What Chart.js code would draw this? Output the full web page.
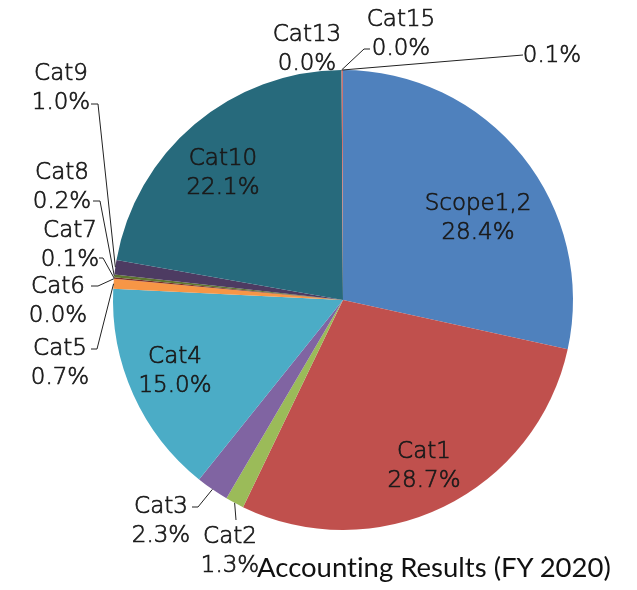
<!DOCTYPE html>
<html>
<head>
<meta charset="utf-8">
<script src="https://cdn.jsdelivr.net/npm/chart.js@4.4.1/dist/chart.umd.min.js"></script>
<style>
    html, body { margin: 0; padding: 0; background: #fff; }
    #wrap { position: relative; width: 637px; height: 590px; overflow: hidden; }
    #title {
        position: absolute; left: 257px; top: 550px;
        font: 27.5px Lato, sans-serif; color: #111; white-space: nowrap;
        font-variant-ligatures: none;
    }
</style>
</head>
<body>
<div id="wrap">
    <canvas id="chart" width="637" height="590"></canvas>
    <div id="title">Accounting Results (FY 2020)</div>
</div>
<script>
const categories = ["Scope1,2", "Cat1", "Cat2", "Cat3", "Cat4", "Cat5", "Cat6", "Cat7",
    "Cat8", "Cat9", "Cat10", "Cat13", "Cat15", ""];
const shares = [28.4, 28.7, 1.3, 2.3, 15.0, 0.7, 0.0, 0.1, 0.2, 1.0, 22.1, 0.0, 0.0, 0.1];

// Office 2007 palette, accents then their darker and lighter shades
const sliceColors = ["#4F81BD", "#C0504D", "#9BBB59", "#8064A2", "#4BACC6", "#F79646",
    "#2C4D75", "#772C2A", "#5F7530", "#4D3B62", "#276A7C", "#B65708", "#729ACA", "#CD7371"];

// label text centre x / first baseline y, plus the leader bend points (label side first)
const labelPlacement = [
    { x: 478, y: 210 },
    { x: 424, y: 458 },
    { x: 230, y: 543, leader: [[236, 520]] },
    { x: 161, y: 513, leader: [[192, 507], [198, 507]] },
    { x: 175, y: 363 },
    { x: 60, y: 355, leader: [[91, 349], [97, 349]] },
    { x: 58, y: 293, leader: [[91, 286], [98, 286]] },
    { x: 70, y: 237, leader: [[99, 258], [103, 258]] },
    { x: 62, y: 179, leader: [[93, 201], [100, 201]] },
    { x: 61, y: 80, leader: [[91, 104], [98, 104]] },
    { x: 223, y: 165 },
    { x: 307, y: 41 },
    { x: 401, y: 26, leader: [[370, 49], [364, 49]] },
    { x: 552, y: 62, leader: [[523, 55]] },
];
const LINE_GAP = 29;

function drawText(ctx, text, x, y) {
    ctx.fillText(text, x, y);
    ctx.strokeText(text, x, y);
}

const pieLabels = {
    id: "pieLabels",
    afterDraw(chart) {
        const ctx = chart.ctx;
        const arcs = chart.getDatasetMeta(0).data;
        ctx.save();
        ctx.strokeStyle = "#222";
        ctx.lineWidth = 1;
        arcs.forEach((arc, i) => {
            const place = labelPlacement[i];
            if (!place.leader) {
                return;
            }
            const { x, y, startAngle, endAngle, outerRadius } =
                arc.getProps(["x", "y", "startAngle", "endAngle", "outerRadius"], true);
            const mid = (startAngle + endAngle) / 2;
            ctx.beginPath();
            place.leader.forEach(([px, py], k) => (k ? ctx.lineTo(px, py) : ctx.moveTo(px, py)));
            ctx.lineTo(x + Math.cos(mid) * outerRadius, y + Math.sin(mid) * outerRadius);
            ctx.stroke();
        });
        // the light face alone is too thin, a hairline stroke brings it near the original weight
        ctx.fillStyle = "#1a1a1a";
        ctx.strokeStyle = "#1a1a1a";
        ctx.lineWidth = 0.7;
        ctx.font = "200 23px 'DejaVu Sans', sans-serif";
        ctx.textAlign = "center";
        ctx.textBaseline = "alphabetic";
        categories.forEach((name, i) => {
            const place = labelPlacement[i];
            const pct = shares[i].toFixed(1) + "%";
            if (name) {
                drawText(ctx, name, place.x, place.y);
                drawText(ctx, pct, place.x, place.y + LINE_GAP);
            } else {
                drawText(ctx, pct, place.x, place.y);
            }
        });
        ctx.restore();
    },
};

new Chart(document.getElementById("chart"), {
    type: "pie",
    data: {
        labels: categories,
        datasets: [{
            data: shares,
            backgroundColor: sliceColors,
            borderWidth: 0,
        }],
    },
    options: {
        responsive: false,
        animation: false,
        devicePixelRatio: 1,
        layout: { padding: { top: 70, bottom: 60, left: 113, right: 64 } },
        plugins: {
            legend: { display: false },
            tooltip: { enabled: false },
        },
    },
    plugins: [pieLabels],
});
</script>
</body>
</html>
